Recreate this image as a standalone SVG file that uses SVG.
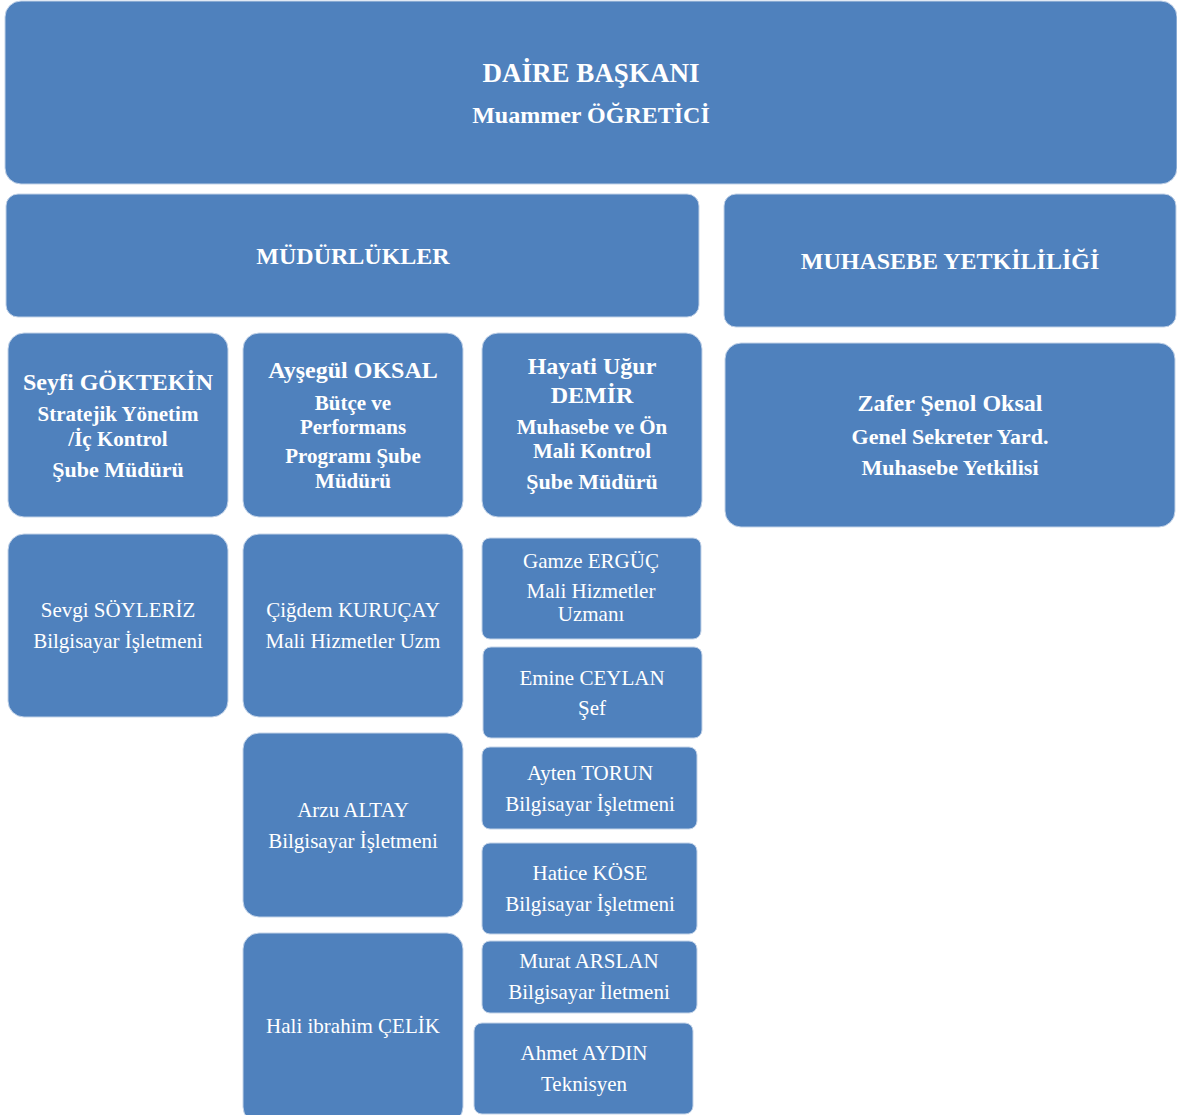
<svg xmlns="http://www.w3.org/2000/svg" width="1177" height="1115" viewBox="0 0 1177 1115">
<style>
.box{fill:#4f81bd;stroke:#c3d3e8;stroke-width:1}
text{font-family:"Liberation Serif","Times New Roman",serif;fill:#ffffff;text-anchor:middle}
.b{font-weight:bold}
.t1{font-size:27px}
.t2{font-size:24px}
.t3{font-size:22px}
.t4{font-size:21px}
.n{font-size:21px}
</style>
<rect width="1177" height="1115" fill="#ffffff"/>
<g id="connectors"></g>
<g id="daire"><rect class="box" x="5" y="1" width="1172" height="183" rx="16"/>
<text class="b t1" x="591" y="82">DAİRE BAŞKANI</text>
<text class="b t2" x="591" y="123" font-size="26.3">Muammer ÖĞRETİCİ</text></g>
<g id="mudurlukler"><rect class="box" x="6" y="194" width="693" height="123" rx="12"/>
<text class="b t2" x="353" y="264">MÜDÜRLÜKLER</text></g>
<g id="muhasebe"><rect class="box" x="724" y="194" width="452" height="133" rx="12"/>
<text class="b t2" x="950" y="269" font-size="23.6">MUHASEBE YETKİLİLİĞİ</text></g>
<g id="zafer"><rect class="box" x="725" y="343" width="450" height="184" rx="16"/>
<text class="b t2" x="950" y="411" font-size="24.7">Zafer Şenol Oksal</text>
<text class="b t3" x="950" y="444">Genel Sekreter Yard.</text>
<text class="b t3" x="950" y="475">Muhasebe Yetkilisi</text></g>
<g id="seyfi"><rect class="box" x="8" y="333" width="220" height="184" rx="16"/>
<text class="b t2" x="118" y="390" font-size="22.3">Seyfi GÖKTEKİN</text>
<text class="b t4" x="118" y="421">Stratejik Yönetim</text>
<text class="b t4" x="118" y="446">/İç Kontrol</text>
<text class="b t3" x="118" y="477">Şube Müdürü</text></g>
<g id="aysegul"><rect class="box" x="243" y="333" width="220" height="184" rx="16"/>
<text class="b t2" x="353" y="378">Ayşegül OKSAL</text>
<text class="b t4" x="353" y="410">Bütçe ve</text>
<text class="b t4" x="353" y="434">Performans</text>
<text class="b t4" x="353" y="463">Programı Şube</text>
<text class="b t4" x="353" y="488">Müdürü</text></g>
<g id="hayati"><rect class="box" x="482" y="333" width="220" height="184" rx="16"/>
<text class="b t2" x="592" y="374">Hayati Uğur</text>
<text class="b t2" x="592" y="403">DEMİR</text>
<text class="b t4" x="592" y="434">Muhasebe ve Ön</text>
<text class="b t4" x="592" y="458">Mali Kontrol</text>
<text class="b t3" x="592" y="489">Şube Müdürü</text></g>
<g id="sevgi"><rect class="box" x="8" y="534" width="220" height="183" rx="16"/>
<text class="n" x="118" y="617">Sevgi SÖYLERİZ</text>
<text class="n" x="118" y="648">Bilgisayar İşletmeni</text></g>
<g id="cigdem"><rect class="box" x="243" y="534" width="220" height="183" rx="16"/>
<text class="n" x="353" y="617">Çiğdem KURUÇAY</text>
<text class="n" x="353" y="648">Mali Hizmetler Uzm</text></g>
<g id="arzu"><rect class="box" x="243" y="733" width="220" height="184" rx="16"/>
<text class="n" x="353" y="817">Arzu ALTAY</text>
<text class="n" x="353" y="848">Bilgisayar İşletmeni</text></g>
<g id="hali"><rect class="box" x="243" y="933" width="220" height="190" rx="16"/>
<text class="n" x="353" y="1033">Hali ibrahim ÇELİK</text></g>
<g id="gamze"><rect class="box" x="482" y="538" width="219" height="101" rx="8"/>
<text class="n" x="591" y="568">Gamze ERGÜÇ</text>
<text class="n" x="591" y="598">Mali Hizmetler</text>
<text class="n" x="591" y="621">Uzmanı</text></g>
<g id="emine"><rect class="box" x="483" y="647" width="219" height="91" rx="8"/>
<text class="n" x="592" y="685">Emine CEYLAN</text>
<text class="n" x="592" y="715">Şef</text></g>
<g id="ayten"><rect class="box" x="482" y="747" width="215" height="82" rx="8"/>
<text class="n" x="590" y="780">Ayten TORUN</text>
<text class="n" x="590" y="811">Bilgisayar İşletmeni</text></g>
<g id="hatice"><rect class="box" x="482" y="843" width="215" height="91" rx="8"/>
<text class="n" x="590" y="880">Hatice KÖSE</text>
<text class="n" x="590" y="911">Bilgisayar İşletmeni</text></g>
<g id="murat"><rect class="box" x="482" y="941" width="215" height="72" rx="8"/>
<text class="n" x="589" y="968">Murat ARSLAN</text>
<text class="n" x="589" y="999">Bilgisayar İletmeni</text></g>
<g id="ahmet"><rect class="box" x="474" y="1023" width="219" height="91" rx="8"/>
<text class="n" x="584" y="1060">Ahmet AYDIN</text>
<text class="n" x="584" y="1091">Teknisyen</text></g>
</svg>
